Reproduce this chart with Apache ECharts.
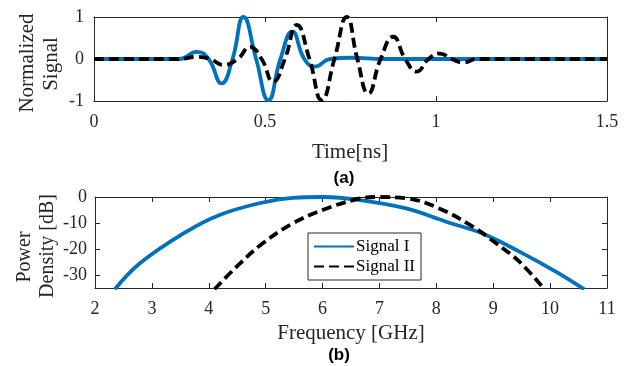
<!DOCTYPE html>
<html>
<head>
<meta charset="utf-8">
<script src="https://cdn.jsdelivr.net/npm/echarts@6/dist/echarts.min.js"></script>
<style>
html,body{margin:0;padding:0;background:#fff;}
#c{width:635px;height:366px;}
</style>
</head>
<body>
<div id="c"></div>
<script>
// ---- (a) time-domain signals ----
var sig1Time = [0, 0.25, 0.30, 0.335, 0.373, 0.405, 0.437, 0.474, 0.510, 0.545, 0.580, 0.615, 0.646, 0.69, 0.75, 0.85, 1.5];
var sig1Val  = [0, 0, 0.17, 0, -0.58, 0, 1.0, 0, -0.98, 0, 0.65, 0, -0.18, 0, 0.03, 0, 0];
var sig2Time = [0, 0.25, 0.30, 0.34, 0.378, 0.42, 0.456, 0.49, 0.524, 0.558, 0.593, 0.63, 0.666, 0.703, 0.739, 0.77, 0.802, 0.838, 0.875, 0.91, 0.944, 0.978, 1.012, 1.046, 1.08, 1.12, 1.5];
var sig2Val  = [0, 0, 0.05, 0, -0.14, 0, 0.29, 0, -0.54, 0, 0.81, 0, -0.98, 0, 1.0, 0, -0.82, 0, 0.53, 0, -0.30, 0, 0.13, 0, -0.08, 0, 0];
var timeTicks = [0, 0.5, 1, 1.5];
var signalTicks = [-1, 0, 1];

// ---- (b) power spectral density ----
var freq1 = [2.35, 2.79, 3.61, 4.19, 4.89, 5.48, 6.0, 6.65, 7.47, 8.17, 8.81, 9.46, 10.1, 10.6];
var psd1  = [-35.5, -25.5, -13.3, -6.9, -2.4, -0.3, 0, -1.15, -4.4, -9.5, -14, -21, -28.7, -35.5];
var freq2 = [4.1, 4.49, 4.95, 5.48, 6.0, 6.59, 6.95, 7.47, 8.05, 8.64, 9.05, 9.46, 9.9];
var psd2  = [-35.5, -26.8, -17.8, -10.1, -5, -0.9, 0, -0.5, -4.4, -11.4, -17.8, -24.9, -35.5];
var freqTicks = [2, 3, 4, 5, 6, 7, 8, 9, 10, 11];
var dbTicks = [-30, -20, -10, 0];
var seriesNames = ['Signal I', 'Signal II'];

function zip(a, b) { return a.map(function (v, i) { return [v, b[i]]; }); }

var SERIF = '"Liberation Serif", serif';
var AX = '#262626';
var BLUE = '#0072BD';

function lbl(show, margin) {
  return {
    show: show, margin: margin,
    formatter: function (v) { return '{s|' + String(v) + '}'; },
    rich: { s: { fontFamily: SERIF, fontSize: 18, color: '#262626' } }
  };
}
function xAx(grid, min, max, interval, show, pos) {
  return {
    type: 'value', gridIndex: grid, min: min, max: max, interval: interval, position: pos,
    axisLine: { show: true, onZero: false, lineStyle: { color: AX, width: 1 } },
    axisTick: { show: true, inside: true, length: 5, lineStyle: { color: AX } },
    splitLine: { show: false },
    axisLabel: lbl(show, 12)
  };
}
function yAx(grid, min, max, extra, show, pos, margin) {
  var a = {
    type: 'value', gridIndex: grid, min: min, max: max, position: pos,
    axisLine: { show: true, onZero: false, lineStyle: { color: AX, width: 1 } },
    axisTick: { show: true, inside: true, length: 5, lineStyle: { color: AX } },
    splitLine: { show: false },
    axisLabel: lbl(show, margin)
  };
  for (var k in extra) {
    if (k === 'tickValues') {
      a.axisTick.customValues = extra[k];
      a.axisLabel.customValues = extra[k];
    } else a[k] = extra[k];
  }
  return a;
}

var chart = echarts.init(document.getElementById('c'), null, { renderer: 'canvas' });
chart.setOption({
  backgroundColor: '#fff',
  animation: false,
  textStyle: { fontFamily: SERIF },
  grid: [
    { left: 94, right: 28, top: 17, height: 84 },
    { left: 95, right: 28, top: 197, height: 91 }
  ],
  xAxis: [
    xAx(0, timeTicks[0], timeTicks[timeTicks.length - 1], 0.5, true, 'bottom'),
    xAx(0, timeTicks[0], timeTicks[timeTicks.length - 1], 0.5, false, 'top'),
    xAx(1, freqTicks[0], freqTicks[freqTicks.length - 1], 1, true, 'bottom'),
    xAx(1, freqTicks[0], freqTicks[freqTicks.length - 1], 1, false, 'top')
  ],
  yAxis: [
    yAx(0, signalTicks[0], signalTicks[signalTicks.length - 1], { interval: 1 }, true, 'left', 10),
    yAx(0, signalTicks[0], signalTicks[signalTicks.length - 1], { interval: 1 }, false, 'right', 10),
    yAx(1, -35, 0, { tickValues: dbTicks }, true, 'left', 8),
    yAx(1, -35, 0, { tickValues: dbTicks }, false, 'right', 8)
  ],
  legend: {
    data: seriesNames,
    left: 308, top: 233, orient: 'vertical',
    backgroundColor: '#fff', borderColor: AX, borderWidth: 1, borderRadius: 0,
    padding: [5, 6, 5, 5], itemGap: 3, itemWidth: 40, itemHeight: 14,
    itemStyle: { opacity: 0 },
    textStyle: { fontSize: 17, fontFamily: SERIF, color: '#000', padding: [0, 0, 0, -3] }
  },
  series: [
    { name: 'sig1a', type: 'line', xAxisIndex: 0, yAxisIndex: 0, data: zip(sig1Time, sig1Val),
      smooth: 0.5, showSymbol: false, symbol: 'none', lineStyle: { color: BLUE, width: 3.8 }, z: 2 },
    { name: 'sig2a', type: 'line', xAxisIndex: 0, yAxisIndex: 0, data: zip(sig2Time, sig2Val),
      smooth: 0.5, showSymbol: false, symbol: 'none', lineStyle: { color: '#000', width: 3.8, type: [10, 5] }, z: 3 },
    { name: seriesNames[0], type: 'line', xAxisIndex: 2, yAxisIndex: 2, data: zip(freq1, psd1),
      smooth: 0.4, showSymbol: false, symbol: 'none', itemStyle: { color: BLUE }, lineStyle: { color: BLUE, width: 3.8 }, z: 2 },
    { name: seriesNames[1], type: 'line', xAxisIndex: 2, yAxisIndex: 2, data: zip(freq2, psd2),
      smooth: 0.4, showSymbol: false, symbol: 'none', itemStyle: { color: '#000' }, lineStyle: { color: '#000', width: 3.8, type: [10, 5] }, z: 3 }
  ],
  graphic: [
    { type: 'text', x: 350, y: 152, style: { text: 'Time[ns]', font: '21px "Liberation Serif"', fill: '#262626', textAlign: 'center', textVerticalAlign: 'middle' } },
    { type: 'text', x: 344, y: 178, style: { text: '(a)', font: 'bold 17px "Liberation Sans"', fill: '#000', textAlign: 'center', textVerticalAlign: 'middle' } },
    { type: 'text', x: 351, y: 333, style: { text: 'Frequency [GHz]', font: '21px "Liberation Serif"', fill: '#262626', textAlign: 'center', textVerticalAlign: 'middle' } },
    { type: 'text', x: 339, y: 355, style: { text: '(b)', font: 'bold 17px "Liberation Sans"', fill: '#000', textAlign: 'center', textVerticalAlign: 'middle' } },
    { type: 'text', x: 27, y: 63, rotation: Math.PI / 2, style: { text: 'Normalized', font: '21px "Liberation Serif"', fill: '#262626', textAlign: 'center', textVerticalAlign: 'middle' } },
    { type: 'text', x: 51, y: 64, rotation: Math.PI / 2, style: { text: 'Signal', font: '21px "Liberation Serif"', fill: '#262626', textAlign: 'center', textVerticalAlign: 'middle' } },
    { type: 'text', x: 25, y: 257, rotation: Math.PI / 2, style: { text: 'Power', font: '20px "Liberation Serif"', fill: '#262626', textAlign: 'center', textVerticalAlign: 'middle' } },
    { type: 'text', x: 48, y: 246, rotation: Math.PI / 2, style: { text: 'Density [dB]', font: '20px "Liberation Serif"', fill: '#262626', textAlign: 'center', textVerticalAlign: 'middle' } }
  ]
});
</script>
</body>
</html>
